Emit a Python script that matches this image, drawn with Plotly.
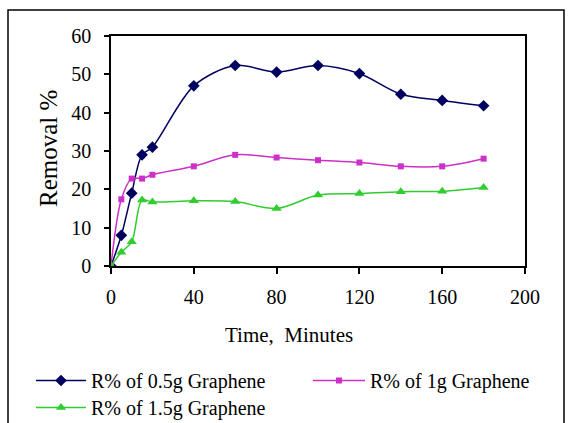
import plotly.graph_objects as go

time_min = [0, 5, 10, 15, 20, 40, 60, 80, 100, 120, 140, 160, 180]
r_05g = [0, 8, 19, 29, 31, 47, 52.3, 50.6, 52.3, 50.2, 44.8, 43.2, 41.8]
r_1g = [0, 17.4, 22.8, 22.8, 23.8, 26, 29, 28.3, 27.6, 27, 26, 26, 28]
r_15g = [0, 3.6, 6.3, 17.2, 16.7, 17, 16.8, 15, 18.5, 18.9, 19.4, 19.5, 20.5]

names = ["R% of 0.5g Graphene", "R% of 1g Graphene", "R% of 1.5g Graphene"]
colors = ["#00005e", "#cc30c8", "#30cc30"]
symbols = ["diamond", "square", "triangle-up"]
sizes = [9, 6, 9]
legends = ["legend", "legend2", "legend3"]

W, H = 573, 423
L, R, T, B = 111, 48, 36, 157
pw, ph = W - L - R, H - T - B

def px_x(p):
    return (p - L) / pw

def px_y(p):
    return (H - B - p) / ph

FAM = "Liberation Serif"
fig = go.Figure()
for ys, n, c, s, sz, lg in zip([r_05g, r_1g, r_15g], names, colors, symbols, sizes, legends):
    fig.add_trace(go.Scatter(
        x=time_min, y=ys, name=n, mode="lines+markers", legend=lg,
        line=dict(color=c, width=1.5, shape="spline", smoothing=0.9),
        marker=dict(symbol=s, size=sz, color=c),
    ))

font = dict(family=FAM, color="#000", size=20)

def leg(xpx, ypx, iw):
    return dict(
        orientation="v", xref="container", yref="container",
        x=xpx / W, y=1 - ypx / H, xanchor="left", yanchor="top", itemwidth=iw,
        font=dict(family=FAM, size=20, color="#000"),
        tracegroupgap=0, bgcolor="rgba(0,0,0,0)", borderwidth=0,
    )

fig.update_layout(
    width=W, height=H,
    margin=dict(l=L, r=R, t=T, b=B, autoexpand=False),
    paper_bgcolor="white", plot_bgcolor="white",
    font=font,
    showlegend=True,
    legend=leg(31, 361, 50),
    legend2=leg(308, 361, 52),
    legend3=leg(31, 388, 50),
    xaxis=dict(
        range=[0, 200], tickvals=[0, 40, 80, 120, 160, 200], automargin=False,
        showgrid=False, zeroline=False, showline=True, linecolor="#000", linewidth=1.5,
        mirror=True, ticks="outside", ticklen=6, tickcolor="#000", tickwidth=1.5,
        tickfont=dict(family=FAM, size=20, color="#000"), ticklabelstandoff=6,
    ),
    yaxis=dict(
        range=[0, 60], tickvals=[0, 10, 20, 30, 40, 50, 60], automargin=False,
        showgrid=False, zeroline=False, showline=True, linecolor="#000", linewidth=1.5,
        mirror=True, ticks="outside", ticklen=5, tickcolor="#000", tickwidth=1.5,
        tickfont=dict(family=FAM, size=20, color="#000"), ticklabelstandoff=9,
    ),
    annotations=[
        dict(
            text="Time,  Minutes", xref="paper", yref="paper",
            x=px_x(289), y=px_y(335), xanchor="center", yanchor="middle",
            showarrow=False, font=dict(family=FAM, size=21, color="#000"),
        ),
        dict(
            text="Removal %", xref="paper", yref="paper", textangle=-90,
            x=px_x(48), y=px_y(148), xanchor="center", yanchor="middle",
            showarrow=False, font=dict(family=FAM, size=25, color="#000"),
        ),
    ],
    shapes=[dict(
        type="rect", xref="paper", yref="paper",
        x0=px_x(8), x1=px_x(564), y0=px_y(430), y1=px_y(10),
        line=dict(color="#000", width=1.5), fillcolor="rgba(0,0,0,0)", layer="below",
    )],
)

fig.write_html("out.html", config={"displayModeBar": False},
               post_script="document.body.style.margin='0';")
